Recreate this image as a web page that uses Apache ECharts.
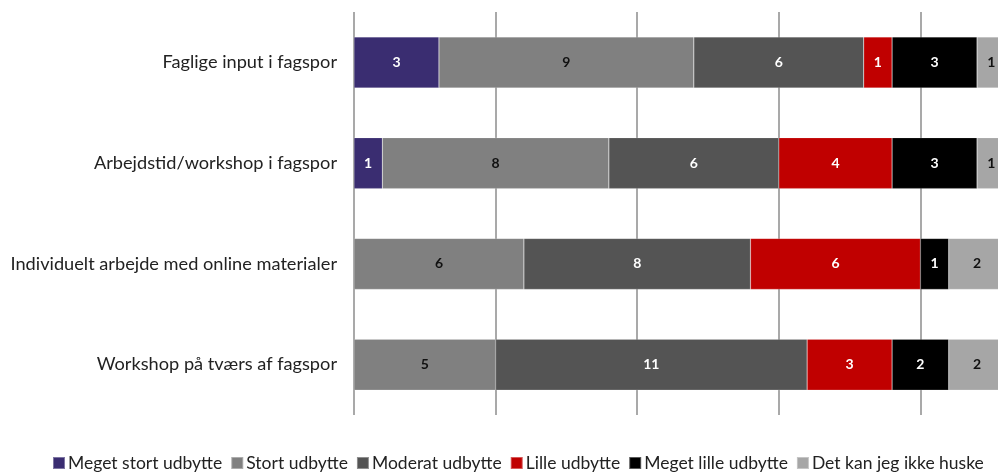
<!DOCTYPE html>
<html>
<head>
<meta charset="utf-8">
<script src="https://cdn.jsdelivr.net/npm/echarts@6/dist/echarts.min.js"></script>
<style>
  html, body { margin: 0; padding: 0; background: #fff; }
  #chart { width: 998px; height: 473px; }
</style>
</head>
<body>
<div id="chart"></div>
<script>
// categories, top to bottom
var categories = ['Faglige input i fagspor', 'Arbejdstid/workshop i fagspor', 'Individuelt arbejde med online materialer', 'Workshop på tværs af fagspor'];
var seriesNames = ['Meget stort udbytte', 'Stort udbytte', 'Moderat udbytte', 'Lille udbytte', 'Meget lille udbytte', 'Det kan jeg ikke huske'];
var megetStort = [3, 1, 0, 0];
var stort = [9, 8, 6, 5];
var moderat = [6, 6, 8, 11];
var lille = [1, 4, 6, 3];
var megetLille = [3, 3, 1, 2];
var huskeIkke = [1, 1, 2, 2];
var colors = ['#3a2d71', '#808080', '#545454', '#c00000', '#000000', '#a6a6a6'];
var labelColors = ['#fff', '#111', '#fff', '#fff', '#fff', '#111'];

var values = [megetStort, stort, moderat, lille, megetLille, huskeIkke];
var series = [];
for (let i = 0; i < seriesNames.length; i++) {
  series.push({
    name: seriesNames[i],
    type: 'bar',
    stack: 'total',
    barWidth: 51,
    data: values[i].map(function (v) { return v === 0 ? null : v; }),
    itemStyle: { color: colors[i], borderColor: 'rgba(255,255,255,0.35)', borderWidth: 0.5 },
    label: {
      show: true,
      position: 'inside',
      color: labelColors[i],
      fontFamily: 'Lato',
      fontWeight: 'bold',
      fontSize: 14
    }
  });
}

let option = {
  animation: false,
  backgroundColor: '#fff',
  // the value axis runs to 25, past the right edge of the picture
  grid: { left: 354, width: 708, top: 12, bottom: 58, outerBoundsMode: 'none' },
  legend: {
    bottom: -4,
    left: 47,
    itemWidth: 12,
    itemHeight: 12,
    itemGap: 8,
    icon: 'rect',
    textStyle: { fontFamily: 'Lato', fontSize: 17.5, color: '#222', padding: [0, 0, 0, -2] },
    data: seriesNames
  },
  xAxis: {
    type: 'value',
    min: 0,
    max: 25,
    interval: 5,
    axisLabel: { show: false },
    axisTick: { show: false },
    axisLine: { show: false },
    splitLine: { show: true, lineStyle: { color: '#8c8c8c', width: 1.5 } }
  },
  yAxis: {
    type: 'category',
    inverse: true,
    data: categories,
    axisTick: { show: false },
    axisLine: { show: false },
    axisLabel: { fontFamily: 'Lato', fontSize: 18.2, color: '#222', margin: 17 }
  },
  series: series
};
let mychart = echarts.init(document.getElementById('chart'));
mychart.setOption(option);
</script>
</body>
</html>
